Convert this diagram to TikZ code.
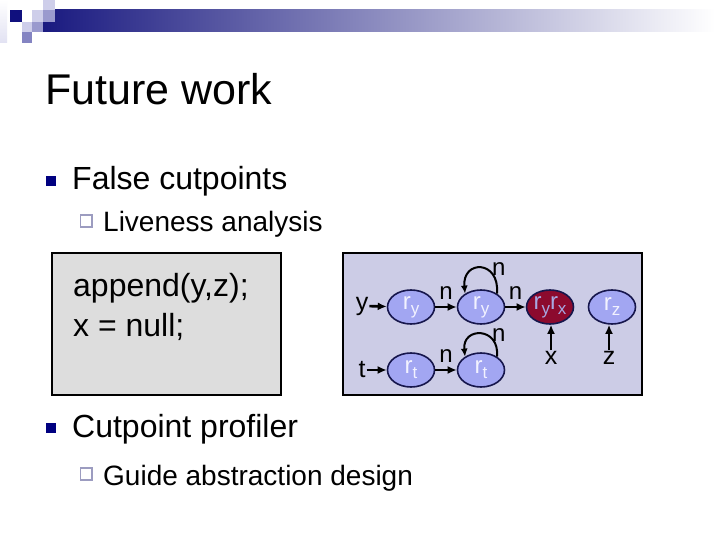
\documentclass[tikz,border=0pt]{standalone}
\usepackage{fontspec}
\setmainfont{Liberation Sans}
\usepackage{xcolor}
\usepackage{tikz}
\usetikzlibrary{arrows, arrows.meta, shapes.geometric}

\definecolor{hdnavy}{HTML}{1A1A80}
\definecolor{hdmid}{HTML}{C4C4D6}
\definecolor{sqdark}{HTML}{10107E}
\definecolor{sqlight}{HTML}{CECEEA}
\definecolor{sqmid}{HTML}{9A9ACE}
\definecolor{sqdeep}{HTML}{8484C2}
\definecolor{bulnavy}{HTML}{000080}
\definecolor{subbul}{HTML}{9C9CC0}
\definecolor{codegray}{HTML}{DDDDDD}
\definecolor{heapbg}{HTML}{CCCCE6}
\definecolor{cellfill}{HTML}{A2A6F2}
\definecolor{cellline}{HTML}{16164C}
\definecolor{celltext}{HTML}{F2F2FF}
\definecolor{cutred}{HTML}{8C0A2E}
\definecolor{cuttext}{HTML}{A8A8E2}

\newcommand{\sbs}[1]{\raisebox{-5pt}{\fontsize{17}{17}\selectfont #1}}

\begin{document}
\begin{tikzpicture}[x=1pt, y=-1pt]
\tikzstyle{txt}=[inner sep=0pt, anchor=base west]
\tikzstyle{cell}=[ellipse, draw=cellline, line width=1.6pt, fill=cellfill, text=celltext, minimum width=47pt, minimum height=34pt, inner sep=0pt, font=\fontsize{24}{24}\selectfont]
\tikzstyle{lbl}=[inner sep=1pt, font=\fontsize{25}{25}\selectfont]
\tikzstyle{ptr}=[draw, line width=2.6pt, -{Latex[length=9pt,width=8pt]}]
\tikzstyle{selfptr}=[line width=2pt, -{Latex[length=8pt,width=7pt]}]
\tikzstyle{fld}=[inner sep=0pt, font=\fontsize{24}{24}\selectfont]
\useasboundingbox (0,0) rectangle (720,540);
\fill[white] (0,0) rectangle (720,540);

% header bar and squares
\shade[left color=hdnavy, middle color=hdmid, right color=white] (43,10) rectangle (715,32);
\shade[top color=white, bottom color=sqlight!60] (0,0) rectangle (7,43);
\fill[sqdark] (10,10) rectangle (22,22);
\fill[sqlight] (32,10) rectangle (43,22);
\fill[sqlight] (43,0) rectangle (55,10);
\fill[sqmid] (43,10) rectangle (55,22);
\fill[sqlight] (22,22) rectangle (32,32);
\fill[sqmid] (32,22) rectangle (43,32);
\fill[sqdeep] (22,32) rectangle (32,43);

% title and bullets
\node[txt, font=\fontsize{43}{43}\selectfont] (title) at (45,105) {Future work};
\fill[bulnavy] (46,176) rectangle (55.5,186);
\node[txt, font=\fontsize{32}{32}\selectfont] (item1) at (72,190) {False cutpoints};
\draw[subbul, line width=1.6pt] (80.5,215) rectangle (92,227);
\node[txt, font=\fontsize{28}{28}\selectfont] (item1a) at (103,232) {Liveness analysis};
\fill[bulnavy] (46,423) rectangle (55.5,433);
\node[txt, font=\fontsize{32}{32}\selectfont] (item2) at (72,437) {Cutpoint profiler};
\draw[subbul, line width=1.6pt] (80.5,468) rectangle (92,480);
\node[txt, font=\fontsize{28}{28}\selectfont] (item2a) at (103,485) {Guide abstraction design};

% code box
\draw[line width=2.5pt, fill=codegray] (52,253) rectangle (281,395);
\node[txt, font=\fontsize{32}{32}\selectfont] (code1) at (73,296) {append(y,z);};
\node[txt, font=\fontsize{32}{32}\selectfont] (code2) at (73,336) {x = null;};

% heap graph
\draw[line width=2.5pt, fill=heapbg] (343,253) rectangle (642,395);

\node[cell] (ry1) at (411,307) {r\sbs{y}};
\node[cell] (ry2) at (481,307) {r\sbs{y}};
\node[cell, fill=cutred, text=cuttext] (ryx) at (550,307) {r\sbs{y}r\sbs{x}};
\node[cell] (rz) at (612,307) {r\sbs{z}};
\node[cell] (rt1) at (411,370) {r\sbs{t}};
\node[cell] (rt2) at (481,370) {r\sbs{t}};

\node[lbl] (vy) at (362,306) {y};
\node[lbl] (vt) at (362,370) {t};
\node[lbl] (vx) at (551,358) {x};
\node[lbl] (vz) at (609,358) {z};

\path
(vy) edge[ptr] (ry1)
(ry1) edge[ptr] node[fld, above=6pt] (n1) {n} (ry2)
(ry2) edge[ptr] node[fld, above=6pt] (n2) {n} (ryx)
(vt) edge[ptr] (rt1)
(rt1) edge[ptr] node[fld, above=6pt] (n3) {n} (rt2)
(vx) edge[ptr] (vx |- ryx.south)
(vz) edge[ptr] (vz |- rz.south);

\draw[selfptr] (ry2.40) .. controls +(3,-34) and +(-3,-34) .. node[fld, pos=0.4, right=5pt] (n4) {n} (ry2.140);
\draw[selfptr] (rt2.40) .. controls +(3,-30) and +(-3,-30) .. node[fld, pos=0.4, right=5pt] (n5) {n} (rt2.140);

\end{tikzpicture}
\end{document}
